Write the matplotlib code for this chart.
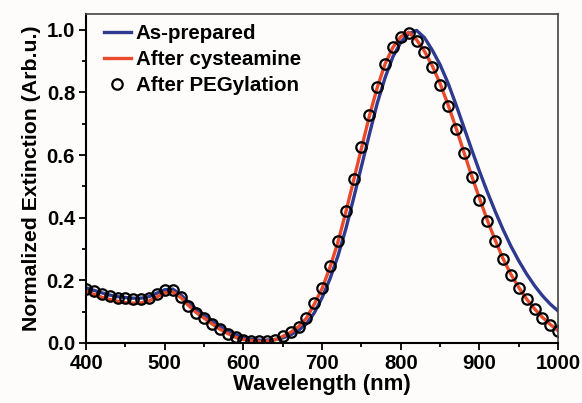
import numpy as np
import matplotlib
matplotlib.use('Agg')
import matplotlib.pyplot as plt
from matplotlib.ticker import MultipleLocator

plt.rcParams['font.family'] = ['Liberation Sans', 'DejaVu Sans']
plt.rcParams['font.weight'] = 'bold'

# wavelength grid (nm), one value every 10 nm
wavelength = list(range(400, 1001, 10))

as_prepared = [
    0.176, 0.168, 0.160, 0.153, 0.148, 0.145, 0.143, 0.143, 0.148, 0.159,
    0.170, 0.172, 0.155, 0.130, 0.108, 0.089, 0.071, 0.054, 0.039, 0.026,
    0.017, 0.011, 0.009, 0.009, 0.011, 0.016, 0.026, 0.040, 0.061, 0.096,
    0.145, 0.205, 0.277, 0.363, 0.462, 0.564, 0.666, 0.765, 0.847, 0.914,
    0.960, 0.987, 0.998, 0.975, 0.935, 0.888, 0.830, 0.762, 0.690, 0.618,
    0.548, 0.482, 0.420, 0.362, 0.309, 0.262, 0.220, 0.183, 0.151, 0.124,
    0.102,
]

after_cysteamine = [
    0.165, 0.155, 0.146, 0.139, 0.133, 0.129, 0.127, 0.128, 0.134, 0.147,
    0.160, 0.163, 0.146, 0.120, 0.097, 0.079, 0.061, 0.044, 0.030, 0.018,
    0.011, 0.007, 0.005, 0.006, 0.010, 0.021, 0.034, 0.052, 0.079, 0.124,
    0.174, 0.242, 0.321, 0.417, 0.519, 0.622, 0.724, 0.815, 0.891, 0.944,
    0.978, 0.992, 0.968, 0.932, 0.885, 0.828, 0.761, 0.688, 0.611, 0.534,
    0.462, 0.392, 0.328, 0.269, 0.219, 0.177, 0.140, 0.109, 0.082, 0.059,
    0.039,
]

after_pegylation = [
    0.173, 0.165, 0.156, 0.150, 0.145, 0.142, 0.140, 0.140, 0.145, 0.157,
    0.168, 0.168, 0.146, 0.119, 0.097, 0.079, 0.061, 0.044, 0.030, 0.018,
    0.011, 0.007, 0.005, 0.006, 0.010, 0.021, 0.034, 0.052, 0.079, 0.126,
    0.177, 0.246, 0.325, 0.421, 0.523, 0.625, 0.727, 0.817, 0.892, 0.944,
    0.978, 0.990, 0.965, 0.928, 0.881, 0.824, 0.757, 0.684, 0.607, 0.530,
    0.458, 0.389, 0.325, 0.267, 0.217, 0.175, 0.139, 0.108, 0.081, 0.058,
    0.038,
]

fig = plt.figure(figsize=(5.82, 4.03), dpi=100, facecolor='#fdfcfa')
ax = fig.add_axes([0.148, 0.149, 0.811, 0.816])
ax.set_facecolor('#fdfcfa')

ax.plot(wavelength, as_prepared, color='#2e3a8f', lw=2.4, label='As-prepared')
ax.plot(wavelength, after_cysteamine, color='#ea4a2c', lw=2.4, label='After cysteamine')
ax.plot(wavelength, after_pegylation, ls='none', marker='o', ms=7.5, mfc='none',
        mec='black', mew=1.6, label='After PEGylation')

ax.set_xlim(400, 1000)
ax.set_ylim(0, 1.05)
ax.xaxis.set_major_locator(MultipleLocator(100))
ax.xaxis.set_minor_locator(MultipleLocator(50))
ax.yaxis.set_major_locator(MultipleLocator(0.2))
ax.yaxis.set_minor_locator(MultipleLocator(0.1))
ax.yaxis.set_major_formatter(plt.FuncFormatter(lambda v, p: f'{v:.1f}'))

ax.tick_params(which='both', direction='out', top=False, right=False,
               width=1.3, labelsize=14.7, pad=3)
ax.tick_params(which='major', length=5)
ax.tick_params(which='minor', length=3)

for s in ['left', 'bottom']:
    ax.spines[s].set_linewidth(1.5)
for s in ['top', 'right']:
    ax.spines[s].set_linewidth(1.2)
    ax.spines[s].set_color('#444444')

ax.set_xlabel('Wavelength (nm)', fontsize=16, fontweight='bold', labelpad=1)
ax.set_ylabel('Normalized Extinction (Arb.u.)', fontsize=15.3, fontweight='bold', labelpad=4)

leg = ax.legend(loc='upper left', bbox_to_anchor=(0.025, 0.989), frameon=False,
                fontsize=14.8, handlelength=1.3, handletextpad=0.25,
                labelspacing=0.34, borderaxespad=0, borderpad=0.3)
for t in leg.get_texts():
    t.set_fontweight('bold')

fig.savefig('out.png', dpi=100, facecolor=fig.get_facecolor())
